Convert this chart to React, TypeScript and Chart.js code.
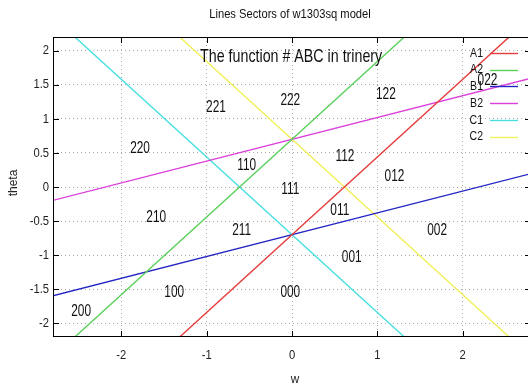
import React, { useEffect, useRef } from 'react';
import { Chart, registerables } from 'chart.js';

Chart.register(...registerables);

const chartTitle = 'Lines Sectors of w1303sq model';
const xAxisTitle = 'w';
const yAxisTitle = 'theta';
const noteText = 'The function # ABC in trinery';
const notePos = [-0.01, 1.91];

const xRange = [-2.8, 2.8];
const yRange = [-2.2, 2.2];
const xTicks = [-2, -1, 0, 1, 2];
const xTickLabels = ['-2', '-1', '0', '1', '2'];
const yTicks = [-2, -1.5, -1, -0.5, 0, 0.5, 1, 1.5, 2];
const yTickLabels = ['-2', '-1.5', '-1', '-0.5', '0', '0.5', '1', '1.5', '2'];

const seriesNames = ['A1', 'A2', 'B1', 'B2', 'C1', 'C2'];
const seriesColors = ['#e63c3c', '#5ad05a', '#2424c4', '#dc3edc', '#48e0e0', '#f0f058'];
const wEnds = [-3, 3];
const thetaA1 = [-4.12, 2.72];
const thetaA2 = [-2.72, 4.12];
const thetaB1 = [-1.66, 0.26];
const thetaB2 = [-0.26, 1.66];
const thetaC1 = [2.72, -4.12];
const thetaC2 = [4.12, -2.72];
const seriesThetas = [thetaA1, thetaA2, thetaB1, thetaB2, thetaC1, thetaC2];

const regionLabels = ['221', '222', '122', '022', '220', '110', '112', '111', '012', '210', '211', '011', '002', '001', '100', '000', '200'];
const regionW = [-0.89, -0.02, 1.1, 2.29, -1.78, -0.53, 0.62, -0.02, 1.2, -1.59, -0.59, 0.56, 1.7, 0.7, -1.38, -0.02, -2.47];
const regionTheta = [1.17, 1.27, 1.36, 1.56, 0.57, 0.31, 0.45, -0.03, 0.16, -0.44, -0.64, -0.34, -0.63, -1.03, -1.54, -1.54, -1.83];

const FONT = "'Liberation Sans', Arial, sans-serif";

function drawText(ctx: CanvasRenderingContext2D, t: string, x: number, y: number, size: number, sx: number, align: CanvasTextAlign) {
  ctx.save();
  ctx.font = `${size}px ${FONT}`;
  ctx.textAlign = align;
  ctx.textBaseline = 'middle';
  ctx.translate(x, y);
  ctx.scale(sx, 1);
  ctx.fillText(t, 0, 0);
  ctx.restore();
}

const overlay = {
  id: 'overlay',
  afterDraw(chart: any) {
    const { ctx, chartArea: a, scales } = chart;
    const x = scales.x;
    const y = scales.y;
    ctx.save();
    ctx.fillStyle = '#111';
    regionLabels.forEach((t, i) => {
      drawText(ctx, t, x.getPixelForValue(regionW[i]), y.getPixelForValue(regionTheta[i]), 16.5, 0.72, 'center');
    });
    drawText(ctx, noteText, x.getPixelForValue(notePos[0]), y.getPixelForValue(notePos[1]), 19, 0.75, 'center');

    // legend
    seriesNames.forEach((n, i) => {
      const yy = a.top + 16 + i * 16.7;
      ctx.fillStyle = '#111';
      drawText(ctx, n, a.right - 48, yy, 13.5, 0.78, 'right');
      ctx.strokeStyle = seriesColors[i];
      ctx.lineWidth = 1.4;
      ctx.beginPath();
      ctx.moveTo(a.right - 41, Math.round(yy) + 0.5);
      ctx.lineTo(a.right - 13, Math.round(yy) + 0.5);
      ctx.stroke();
    });

    // border
    ctx.strokeStyle = '#000';
    ctx.lineWidth = 1;
    ctx.strokeRect(a.left + 0.5, a.top + 0.5, a.right - a.left - 1, a.bottom - a.top - 1);

    // tick marks
    ctx.beginPath();
    xTicks.forEach((v) => {
      const px = Math.round(x.getPixelForValue(v)) + 0.5;
      ctx.moveTo(px, a.bottom);
      ctx.lineTo(px, a.bottom - 6);
      ctx.moveTo(px, a.top);
      ctx.lineTo(px, a.top + 6);
    });
    yTicks.forEach((v) => {
      const py = Math.round(y.getPixelForValue(v)) + 0.5;
      ctx.moveTo(a.left, py);
      ctx.lineTo(a.left + 6, py);
      ctx.moveTo(a.right, py);
      ctx.lineTo(a.right - 6, py);
    });
    ctx.stroke();

    // tick labels
    ctx.fillStyle = '#222';
    yTicks.forEach((v, i) => {
      drawText(ctx, yTickLabels[i], a.left - 4, y.getPixelForValue(v), 13.5, 0.83, 'right');
    });
    xTicks.forEach((v, i) => {
      drawText(ctx, xTickLabels[i], x.getPixelForValue(v), a.bottom + 18, 13.5, 0.83, 'center');
    });

    // axis titles
    drawText(ctx, xAxisTitle, (a.left + a.right) / 2 + 3, a.bottom + 42, 13, 0.9, 'center');
    ctx.save();
    ctx.translate(13, (a.top + a.bottom) / 2 - 4);
    ctx.rotate(-Math.PI / 2);
    drawText(ctx, yAxisTitle, 0, 0, 13, 0.92, 'center');
    ctx.restore();

    // chart title
    ctx.fillStyle = '#111';
    drawText(ctx, chartTitle, 290, 14, 13, 0.86, 'center');
    ctx.restore();
  },
};

export default function App() {
  const ref = useRef<HTMLCanvasElement | null>(null);
  useEffect(() => {
    document.body.style.margin = '0';
    document.body.style.overflow = 'hidden';
    const canvas = ref.current;
    if (!canvas) return;
    const chart = new Chart(canvas, {
      type: 'scatter',
      data: {
        datasets: seriesNames.map((n, i) => ({
          label: n,
          data: wEnds.map((w, k) => ({ x: w, y: seriesThetas[i][k] })),
          showLine: true,
          borderColor: seriesColors[i],
          backgroundColor: seriesColors[i],
          borderWidth: 1.4,
          pointRadius: 0,
          fill: false,
          tension: 0,
        })),
      },
      options: {
        responsive: false,
        animation: false,
        devicePixelRatio: 1,
        layout: { padding: { left: 53, top: 37, right: 9, bottom: 49 } },
        plugins: { legend: { display: false }, tooltip: { enabled: false }, title: { display: false } },
        scales: {
          x: {
            type: 'linear',
            min: xRange[0],
            max: xRange[1],
            afterBuildTicks: (s: any) => { s.ticks = xTicks.map((v) => ({ value: v })); },
            afterFit: (s: any) => { s.height = 0; },
            ticks: { display: false },
            grid: { color: '#a8a8a8', lineWidth: 1, drawTicks: false },
            border: { display: false, dash: [1, 3] },
          },
          y: {
            type: 'linear',
            min: yRange[0],
            max: yRange[1],
            afterBuildTicks: (s: any) => { s.ticks = yTicks.map((v) => ({ value: v })); },
            afterFit: (s: any) => { s.width = 0; },
            ticks: { display: false },
            grid: { color: '#a8a8a8', lineWidth: 1, drawTicks: false },
            border: { display: false, dash: [1, 3] },
          },
        },
      },
      plugins: [overlay],
    });
    return () => chart.destroy();
  }, []);
  return (
    <div style={{ width: 528, height: 386, overflow: 'hidden', background: '#fff' }}>
      <canvas ref={ref} width={540} height={386} style={{ display: 'block' }} />
    </div>
  );
}
